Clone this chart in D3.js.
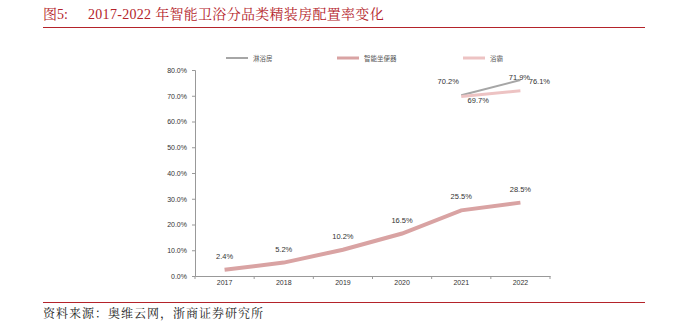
<!DOCTYPE html>
<html><head><meta charset="utf-8">
<script src="https://cdn.jsdelivr.net/npm/d3@7"></script>
<style>body{margin:0;background:#fff}svg{display:block}</style>
</head><body>
<svg id="c" width="688" height="325"></svg>
<script>
const years = ["2017","2018","2019","2020","2021","2022"];
const showerRoom = [null,null,null,null,70.2,76.1];   // 淋浴房
const smartToilet = [2.4,5.2,10.2,16.5,25.5,28.5];    // 智能坐便器
const bathHeater = [null,null,null,null,69.7,71.9];   // 浴霸
const yTicks = [0,10,20,30,40,50,60,70,80];
const seriesNames = ["淋浴房","智能坐便器","浴霸"];

const svg = d3.select("#c");
const serif = "'Liberation Serif','Noto Serif CJK SC','Noto Sans CJK SC',serif";
const cjk = "'Noto Sans CJK SC',sans-serif";
const sans = "'Liberation Sans',Arial,sans-serif";

// title
svg.append("text").attr("x",43).attr("y",19).attr("fill","#B4232A")
  .attr("font-family",serif).attr("font-size",14).text("图5:");
svg.append("text").attr("x",88).attr("y",19).attr("fill","#B4232A")
  .attr("font-family",serif).attr("font-size",14).attr("letter-spacing",0.3)
  .text("2017-2022 年智能卫浴分品类精装房配置率变化");
svg.append("line").attr("x1",43).attr("x2",645).attr("y1",27.5).attr("y2",27.5)
  .attr("stroke","#B4232A").attr("stroke-width",1);
svg.append("line").attr("x1",43).attr("x2",645).attr("y1",302.5).attr("y2",302.5)
  .attr("stroke","#B4232A").attr("stroke-width",1);
svg.append("text").attr("x",43).attr("y",318).attr("fill","#222")
  .attr("font-family",serif).attr("font-size",12).attr("letter-spacing",1)
  .text("资料来源：奥维云网，浙商证券研究所");

const pL=195, pR=550, pT=70, pB=276;
const x = d3.scaleBand().domain(years).range([pL,pR]);
const y = d3.scaleLinear().domain([0,80]).range([pB,pT]);

// y axis
const ya = svg.append("g").attr("transform",`translate(${pL},0)`)
  .call(d3.axisLeft(y).tickValues(yTicks).tickSize(3).tickFormat(d=>d.toFixed(1)+"%"));
ya.select(".domain").attr("stroke","#999");
ya.selectAll(".tick line").attr("stroke","#999");
ya.selectAll("text").attr("font-family",sans).attr("font-size",7).attr("fill","#333").attr("dx",-2);

// x axis
const xa = svg.append("g").attr("transform",`translate(0,${pB})`)
  .call(d3.axisBottom(x).tickSize(0).tickSizeOuter(0));
xa.select(".domain").attr("stroke","#999");
xa.selectAll("text").attr("font-family",sans).attr("font-size",7).attr("fill","#333").attr("dy","0.9em");
const bounds = years.map(d=>x(d)).concat([pR]);
svg.append("g").selectAll("line").data(bounds).join("line")
  .attr("x1",d=>d).attr("x2",d=>d).attr("y1",pB).attr("y2",pB+3).attr("stroke","#999");

const cx = d=>x(d)+x.bandwidth()/2;
const line = d3.line().defined(d=>d[1]!=null).x(d=>cx(d[0])).y(d=>y(d[1]));
const colors = ["#A6A6A6","#D9A3A3","#EDC3C3"];
const widths = [2,4,3];
const data = [showerRoom, smartToilet, bathHeater];
[0,2,1].forEach(i=>{
  svg.append("path").datum(years.map((yr,j)=>[yr,data[i][j]]))
    .attr("d",line).attr("fill","none").attr("stroke",colors[i])
    .attr("stroke-width",widths[i]).attr("stroke-linecap","butt");
});

const lab = (xx,yy,t)=>svg.append("text").attr("x",xx).attr("y",yy)
  .attr("text-anchor","middle").attr("font-family",sans).attr("font-size",7.5)
  .attr("fill","#333").text(t);
years.forEach((yr,j)=>lab(cx(yr), y(smartToilet[j])-11, smartToilet[j].toFixed(1)+"%"));
lab(cx("2021")-13, y(showerRoom[4])-11, showerRoom[4].toFixed(1)+"%");
lab(cx("2022")+19, y(showerRoom[5])+4, showerRoom[5].toFixed(1)+"%");
lab(cx("2021")+17, y(bathHeater[4])+6, bathHeater[4].toFixed(1)+"%");
lab(cx("2022")-1, y(bathHeater[5])-11, bathHeater[5].toFixed(1)+"%");

const lx = [226,337,463];
seriesNames.forEach((n,i)=>{
  svg.append("line").attr("x1",lx[i]).attr("x2",lx[i]+22).attr("y1",58).attr("y2",58)
    .attr("stroke",colors[i]).attr("stroke-width",i===0?2:3);
  svg.append("text").attr("x",lx[i]+27).attr("y",60.5).attr("font-family",cjk)
    .attr("font-size",6.5).attr("fill","#555").text(n);
});
</script>
</body></html>
